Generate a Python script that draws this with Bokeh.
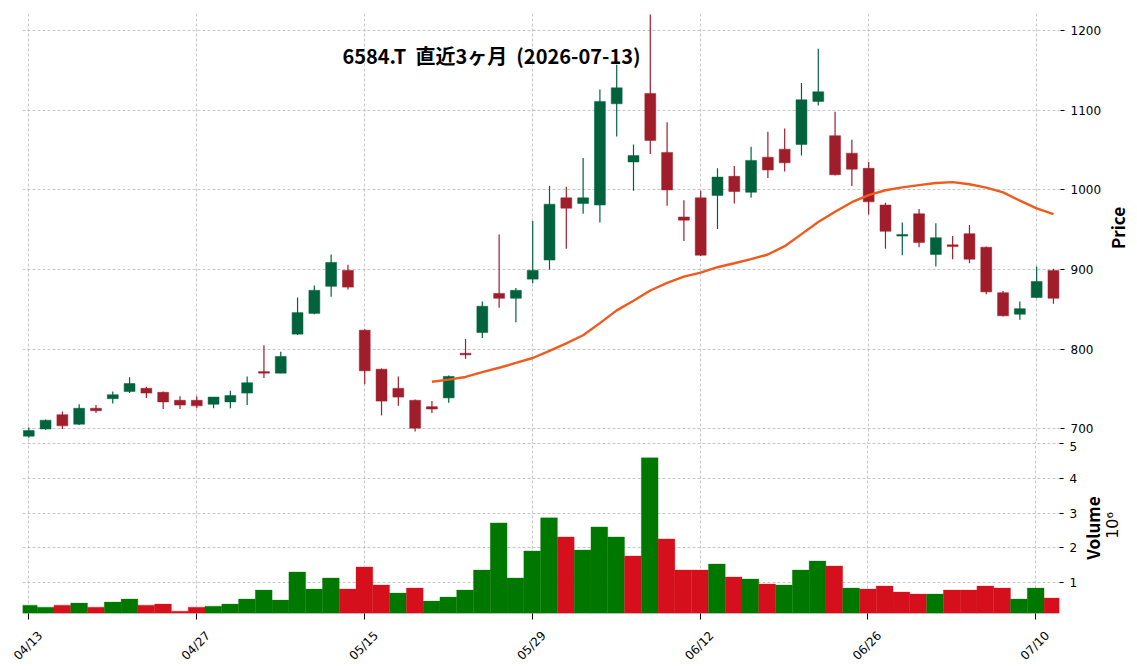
import numpy as np
import pandas as pd
from math import pi
from bokeh.plotting import figure
from bokeh.layouts import column, row
from bokeh.models import Range1d, FixedTicker, Grid, Label, ColumnDataSource, LinearAxis
from bokeh.embed import file_html
from bokeh.resources import INLINE

# ---------------- data ----------------
title_text = "6584.T\u00a0\u00a0直近3ヶ月\u00a0\u00a0(2026-07-13)"

dates = ["04/13", "04/14", "04/15", "04/16", "04/17",
         "04/20", "04/21", "04/22", "04/23", "04/24",
         "04/27", "04/28", "04/30", "05/01", "05/07", "05/08",
         "05/11", "05/12", "05/13", "05/14", "05/15",
         "05/18", "05/19", "05/20", "05/21", "05/22",
         "05/25", "05/26", "05/27", "05/28", "05/29",
         "06/01", "06/02", "06/03", "06/04", "06/05",
         "06/08", "06/09", "06/10", "06/11", "06/12",
         "06/15", "06/16", "06/17", "06/18", "06/19",
         "06/22", "06/23", "06/24", "06/25", "06/26",
         "06/29", "06/30", "07/01", "07/02", "07/03",
         "07/06", "07/07", "07/08", "07/09", "07/10",
         "07/13"]

opens = [691, 700, 718, 706, 726, 738, 747, 751, 746, 736,
         736, 731, 734, 745, 772, 770, 819, 845, 879, 899,
         824, 775, 751, 736, 728, 739, 795, 821, 870, 864,
         888, 912, 990, 983, 981, 1108, 1035, 1121, 1047, 966,
         990, 993, 1017, 997, 1041, 1051, 1057, 1111, 1068, 1046,
         1027, 981, 942, 970, 919, 931, 945, 928, 871, 844,
         865, 899]
highs = [702, 712, 722, 731, 730, 747, 765, 753, 747, 741,
         741, 740, 748, 766, 805, 797, 865, 880, 919, 906,
         825, 776, 766, 737, 735, 767, 813, 860, 944, 877,
         961, 1005, 1004, 1040, 1126, 1157, 1057, 1220, 1085, 987,
         999, 1027, 1030, 1054, 1073, 1077, 1134, 1177, 1098, 1063,
         1035, 984, 959, 976, 958, 942, 956, 929, 873, 860,
         904, 901]
lows = [689, 699, 700, 705, 720, 732, 745, 739, 725, 725,
        726, 726, 726, 730, 764, 770, 818, 844, 866, 875,
        756, 717, 729, 697, 720, 733, 788, 814, 852, 834,
        883, 900, 926, 970, 959, 1067, 999, 1045, 980, 936,
        917, 951, 983, 990, 1015, 1023, 1043, 1106, 1018, 1005,
        969, 926, 918, 928, 904, 913, 908, 869, 841, 837,
        864, 857]
closes = [698, 711, 704, 726, 723, 743, 757, 745, 734, 730,
          729, 740, 742, 758, 770, 791, 846, 874, 909, 878,
          773, 735, 740, 701, 725, 766, 793, 854, 864, 874,
          899, 982, 977, 990, 1111, 1128, 1043, 1062, 1000, 962,
          918, 1016, 998, 1037, 1025, 1034, 1113, 1123, 1019, 1026,
          985, 948, 944, 934, 940, 929, 913, 872, 842, 851,
          885, 864]
volumes = [343000, 285000, 343000, 401000, 285000, 430000, 517000, 343000, 372000, 169000,
           285000, 314000, 372000, 517000, 778000, 488000, 1300000, 807000, 1126000, 807000,
           1444000, 923000, 691000, 836000, 459000, 575000, 778000, 1357000, 2720000, 1126000,
           1908000, 2865000, 2314000, 1937000, 2604000, 2314000, 1763000, 4604000, 2256000, 1357000,
           1357000, 1531000, 1155000, 1097000, 952000, 923000, 1357000, 1618000, 1473000, 836000,
           807000, 894000, 720000, 662000, 662000, 778000, 778000, 894000, 836000, 517000,
           836000, 546000]
ma_window = 25
tick_positions = [0, 10, 20, 30, 40, 50, 60]
tick_labels = [dates[i] for i in tick_positions]
price_ticks = [700, 800, 900, 1000, 1100, 1200]
vol_ticks = [1, 2, 3, 4, 5]
price_label = "Price"
volume_label = "Volume"
volume_mult = "10⁶"

# ---------------- styles ----------------
UP = "#00633e"
DOWN = "#a01e2b"
VUP = "#007800"
VDOWN = "#d5101c"
MA_COLOR = "#f05a1c"
GRID = "#b9b9b9"
CJK = "Noto Sans CJK JP"
TICKF = "DejaVu Sans"
LABEL_SHIFT = 0.69   # rotated date labels are centred on their tick (matplotlib style)

n = len(dates)
x = np.arange(n)
o = np.array(opens, float)
h = np.array(highs, float)
l = np.array(lows, float)
c = np.array(closes, float)
v = np.array(volumes, float) / 1e6
up = c >= o
prev_c = np.concatenate([[o[0]], c[:-1]])
vup = c >= prev_c
ma = pd.Series(c).rolling(ma_window).mean().to_numpy()

src = ColumnDataSource(dict(
    x=x, o=o, h=h, l=l, c=c,
    top=np.maximum(o, c), bottom=np.minimum(o, c),
    color=np.where(up, UP, DOWN),
    vol=v, vcolor=np.where(vup, VUP, VDOWN),
))
ma_ok = ~np.isnan(ma)
ma_src = ColumnDataSource(dict(x=x[ma_ok], y=ma[ma_ok]))

xr = Range1d(-0.374, 61.42)


def style_grid(p, xticks, yticks):
    p.grid.visible = False
    p.add_layout(Grid(dimension=0, ticker=FixedTicker(ticks=xticks),
                      grid_line_color=GRID, grid_line_dash="3 2", grid_line_width=0.8))
    p.add_layout(Grid(dimension=1, ticker=FixedTicker(ticks=yticks),
                      grid_line_color=GRID, grid_line_dash="3 2", grid_line_width=0.8))


def style_yaxis(ax, ticks):
    ax.ticker = FixedTicker(ticks=ticks)
    ax.axis_line_color = None
    ax.major_tick_out = 4
    ax.major_tick_in = 0
    ax.major_tick_line_color = "black"
    ax.minor_tick_line_color = None
    ax.major_label_text_font = TICKF
    ax.major_label_text_font_size = "12px"
    ax.major_label_text_color = "black"
    ax.major_label_standoff = 6


def label_panel(w, hgt):
    f = figure(width=w, height=hgt, x_range=Range1d(0, w), y_range=Range1d(0, hgt),
               output_backend="svg", toolbar_location=None,
               x_axis_location=None, y_axis_location=None,
               min_border=0, min_border_left=0, min_border_right=0,
               min_border_top=0, min_border_bottom=0)
    f.outline_line_color = None
    f.grid.visible = False
    f.background_fill_color = "white"
    return f


# ---------------- price panel ----------------
p = figure(width=1104, height=441, x_range=xr, y_range=Range1d(684.3, 1223.8),
           output_backend="svg", toolbar_location=None,
           x_axis_location=None, y_axis_location="right",
           min_border_top=11, min_border_bottom=0, min_border_left=22, min_border_right=42)
p.outline_line_color = None
p.background_fill_color = "white"
style_grid(p, tick_positions, price_ticks)
style_yaxis(p.yaxis[0], price_ticks)

p.segment(x0="x", y0="l", x1="x", y1="h", line_color="color", line_width=1.2, source=src)
p.vbar(x="x", top="top", bottom="bottom", width=0.65, fill_color="color",
       line_color="color", line_width=0.5, source=src)
p.line(x="x", y="y", line_color=MA_COLOR, line_width=2.4, source=ma_src)

p.add_layout(Label(x=469, y=386, x_units="screen", y_units="screen", text=title_text,
                   text_font=CJK, text_font_style="bold", text_font_size="20px",
                   text_align="center", text_baseline="middle", text_color="black"))

p_lab = label_panel(33, 441)
p_lab.add_layout(Label(x=13, y=219, text=price_label, angle=pi / 2,
                       text_font=CJK, text_font_style="bold", text_font_size="17px",
                       text_align="center", text_baseline="middle", text_color="black"))

# ---------------- volume panel ----------------
pv = figure(width=1080, height=229, x_range=xr, y_range=Range1d(0.101, 5.072),
            output_backend="svg", toolbar_location=None,
            x_axis_location="below", y_axis_location="right",
            min_border_top=0, min_border_bottom=57, min_border_left=22, min_border_right=18)
pv.outline_line_color = None
pv.background_fill_color = "white"
style_grid(pv, tick_positions, vol_ticks)
style_yaxis(pv.yaxis[0], vol_ticks)

# bottom axis: tick marks only
xa = pv.xaxis[0]
xa.ticker = FixedTicker(ticks=tick_positions)
xa.major_label_overrides = {t: "" for t in tick_positions}
xa.major_label_text_font_size = "0px"
xa.major_label_standoff = 0
xa.axis_line_color = None
xa.major_tick_out = 6
xa.major_tick_in = 0
xa.major_tick_line_color = "black"
xa.minor_tick_line_color = None

# second bottom axis: rotated date labels
shifted = [t + LABEL_SHIFT for t in tick_positions]
xl = LinearAxis(ticker=FixedTicker(ticks=shifted),
                major_label_overrides={s: lab for s, lab in zip(shifted, tick_labels)},
                major_label_orientation=pi / 4,
                major_label_text_font=TICKF, major_label_text_font_size="12px",
                major_label_text_color="black", major_label_standoff=14,
                axis_line_color=None, major_tick_out=0, major_tick_in=0,
                major_tick_line_color=None, minor_tick_line_color=None)
pv.add_layout(xl, "below")

pv.vbar(x="x", top="vol", bottom=0, width=1.0, fill_color="vcolor",
        line_color="vcolor", line_width=0.3, source=src)

# the label panel's frame is aligned with the volume frame (172 px for 229 units)
pv_lab = label_panel(57, 229)
pv_lab.add_layout(Label(x=11.5, y=113.8, text=volume_label, angle=pi / 2,
                        text_font=CJK, text_font_style="bold", text_font_size="17px",
                        text_align="center", text_baseline="middle", text_color="black"))
pv_lab.add_layout(Label(x=32, y=117.2, text=volume_mult, angle=pi / 2,
                        text_font=TICKF, text_font_size="16px",
                        text_align="center", text_baseline="middle", text_color="black"))

layout = column(row(p, p_lab, spacing=0), row(pv, pv_lab, spacing=0), spacing=0)
open("out.html", "w").write(file_html(layout, INLINE))
